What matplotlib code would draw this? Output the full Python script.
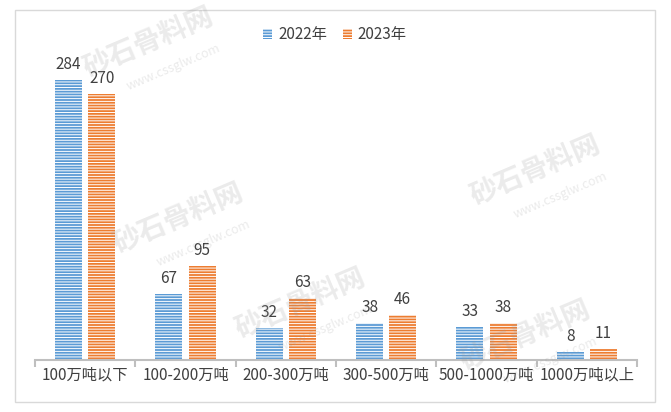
import matplotlib
matplotlib.use("Agg")
import matplotlib.pyplot as plt
import numpy as np

plt.rcParams['font.family'] = ['Noto Sans CJK SC', 'DejaVu Sans']
plt.rcParams['hatch.linewidth'] = 0.7

categories = ['100万吨以下', '100-200万吨', '200-300万吨', '300-500万吨', '500-1000万吨', '1000万吨以上']
values_2022 = [284, 67, 32, 38, 33, 8]
values_2023 = [270, 95, 63, 46, 38, 11]
series_names = ['2022年', '2023年']

BLUE = '#5B9BD5'
ORANGE = '#ED7D31'
TEXT = '#404040'

W, H = 671, 412
fig = plt.figure(figsize=(W / 100, H / 100), dpi=100)

# outer chart border
border = plt.Rectangle((15 / W, 1 - 402 / H), 640 / W, 392 / H, transform=fig.transFigure,
                       fill=False, edgecolor='#D9D9D9', linewidth=1)
fig.patches.append(border)

ax = fig.add_axes([35 / W, 1 - 360 / H, 602 / W, 296 / H])
x = np.arange(len(categories))
bw = 0.27
gap = 0.06
for vals, color, off, name in [(values_2022, BLUE, -(bw + gap) / 2, series_names[0]),
                               (values_2023, ORANGE, (bw + gap) / 2, series_names[1])]:
    bars = ax.bar(x + off, vals, bw, color=color, edgecolor='white', linewidth=0,
                  hatch='------', label=name)
    for b, v in zip(bars, vals):
        ax.annotate(str(v), (b.get_x() + b.get_width() / 2, v), xytext=(0, 5),
                    textcoords='offset points', ha='center', va='bottom',
                    fontsize=11, color=TEXT)

ax.set_xlim(-0.5, len(categories) - 0.5)
ax.set_ylim(0, 300)
for s in ['top', 'right', 'left']:
    ax.spines[s].set_visible(False)
ax.spines['bottom'].set_color('#BFBFBF')
ax.spines['bottom'].set_linewidth(1.5)
ax.set_yticks([])
ax.set_xticks(np.arange(-0.5, len(categories)), minor=False)
ax.set_xticklabels([])
ax.tick_params(axis='x', which='major', length=5, color='#BFBFBF', width=1.5)
ax.set_xticks(x, minor=True)
ax.set_xticklabels(categories, minor=True, fontsize=11, color=TEXT)
ax.tick_params(axis='x', which='minor', length=0, pad=5)

leg = ax.legend(loc='center', bbox_to_anchor=(335 / W, 1 - 35 / H), bbox_transform=fig.transFigure,
                ncol=2, frameon=False, fontsize=11, handlelength=0.6, handleheight=0.6,
                handletextpad=0.4, columnspacing=1.0, labelcolor=TEXT)

# watermarks
marks = [(148, 42), (535, 170), (178, 218), (300, 303), (525, 335)]
for px, py in marks:
    fig.text(px / W, 1 - py / H, '砂石骨料网', fontsize=20, fontweight='bold', color='#9A9A9A',
             alpha=0.2, rotation=23, ha='center', va='center', zorder=10)
    fig.text((px + 25) / W, 1 - (py + 25) / H, 'www.cssglw.com', fontsize=9, color='#9A9A9A',
             alpha=0.2, rotation=23, ha='center', va='center', zorder=10)

fig.savefig('out.png', dpi=100)
